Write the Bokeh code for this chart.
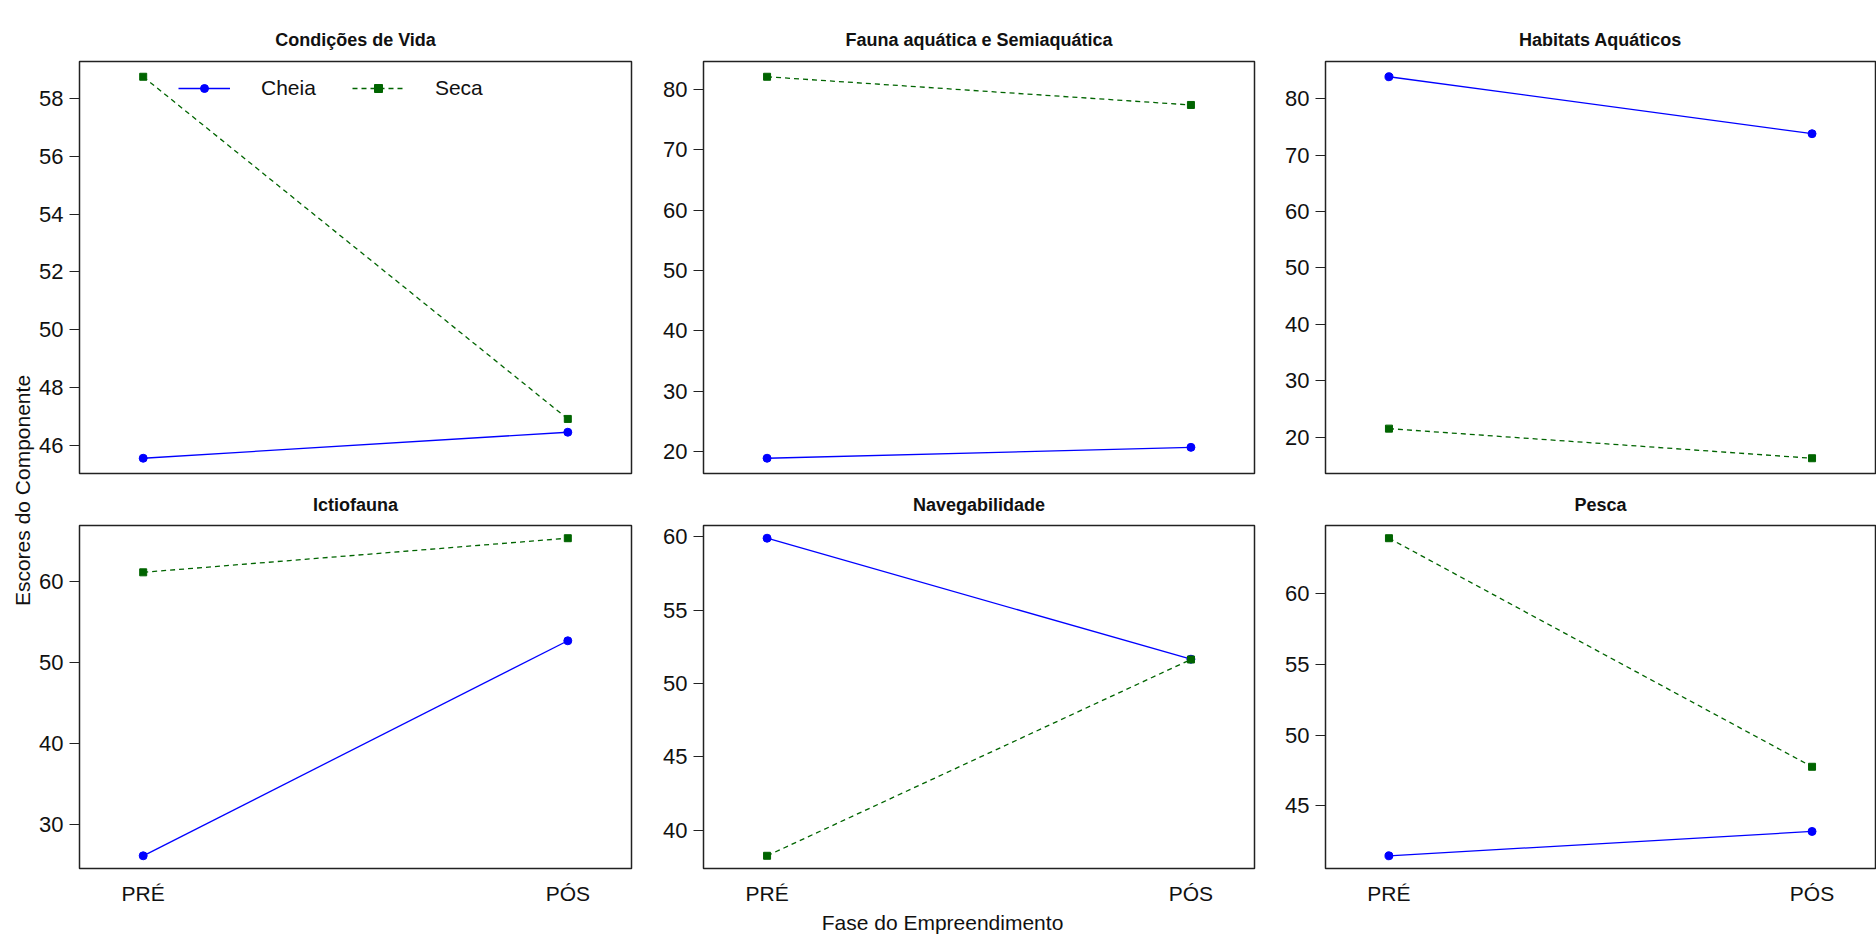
import math
from bokeh.plotting import figure
from bokeh.models import Range1d, FixedTicker, Legend, LegendItem, Label
from bokeh.layouts import row, column
from bokeh.embed import file_html
from bokeh.resources import INLINE

# ---------------- data ----------------
panels = ["Condições de Vida", "Fauna aquática e Semiaquática", "Habitats Aquáticos",
          "Ictiofauna", "Navegabilidade", "Pesca"]
phases = ["PRÉ", "PÓS"]
phase_x = [1, 2]
series = ["Cheia", "Seca"]
cheia_pre = [45.55, 18.9, 83.9, 26.2, 59.9, 41.48]
cheia_pos = [46.45, 20.7, 73.8, 52.67, 51.66, 43.2]
seca_pre = [58.75, 82.07, 21.5, 61.1, 38.27, 63.92]
seca_pos = [46.91, 77.4, 16.25, 65.3, 51.64, 47.77]
yticks = [[46, 48, 50, 52, 54, 56, 58],
          [20, 30, 40, 50, 60, 70, 80],
          [20, 30, 40, 50, 60, 70, 80],
          [30, 40, 50, 60],
          [40, 45, 50, 55, 60],
          [45, 50, 55, 60]]
y_label = "Escores do Componente"
x_label = "Fase do Empreendimento"

# ---------------- style ----------------
FONT = "Liberation Sans"
BLUE = "#0000FF"
GREEN = "#006400"

ylab_w = 36
col_left = [42, 62, 63]
col_right = [10, 8, 2]
frame_w = [552, 551, 550]
row_top = [61, 46]
row_bottom = [6, 38]
frame_h = [412, 343]
title_standoff = [23, 21]
xlab_h = 28


def make_panel(i):
    r, c = divmod(i, 3)
    vals = [cheia_pre[i], cheia_pos[i], seca_pre[i], seca_pos[i]]
    lo, hi = min(vals), max(vals)
    pad = 0.04 * (hi - lo)
    p = figure(frame_width=frame_w[c], frame_height=frame_h[r],
               min_border_left=col_left[c], min_border_right=col_right[c],
               min_border_top=row_top[r], min_border_bottom=row_bottom[r],
               x_range=Range1d(0.85, 2.15), y_range=Range1d(lo - pad, hi + pad),
               output_backend="svg", toolbar_location=None, title=panels[i])
    p.xgrid.visible = False
    p.ygrid.visible = False
    p.background_fill_color = "white"
    p.border_fill_color = "white"
    p.outline_line_color = "#222222"
    p.outline_line_width = 1.5
    p.outline_line_alpha = 1.0

    p.title.text_font = FONT
    p.title.text_font_size = "18px"
    p.title.text_font_style = "bold"
    p.title.text_color = "#111111"
    p.title.align = "center"
    p.title.standoff = title_standoff[r]

    ya = p.yaxis[0]
    ya.ticker = FixedTicker(ticks=yticks[i], minor_ticks=[])
    ya.axis_line_color = None
    ya.major_tick_out = 10
    ya.major_tick_in = 0
    ya.major_tick_line_color = "#222222"
    ya.major_tick_line_width = 1.2
    ya.minor_tick_line_color = None
    ya.major_label_standoff = 6
    ya.major_label_text_font = FONT
    ya.major_label_text_font_size = "22px"
    ya.major_label_text_color = "#111111"

    xa = p.xaxis[0]
    if r == 0:
        xa.visible = False
    else:
        xa.ticker = FixedTicker(ticks=phase_x, minor_ticks=[])
        xa.major_label_overrides = {phase_x[k]: phases[k] for k in range(2)}
        xa.axis_line_color = None
        xa.major_tick_out = 0
        xa.major_tick_in = 0
        xa.major_tick_line_color = None
        xa.minor_tick_line_color = None
        xa.major_label_standoff = 13
        xa.major_label_text_font = FONT
        xa.major_label_text_font_size = "21px"
        xa.major_label_text_color = "#111111"

    l1 = p.line(phase_x, [cheia_pre[i], cheia_pos[i]], line_color=BLUE, line_width=1.3)
    s1 = p.scatter(phase_x, [cheia_pre[i], cheia_pos[i]], marker="circle", size=8,
                   fill_color=BLUE, line_color=BLUE)
    l2 = p.line(phase_x, [seca_pre[i], seca_pos[i]], line_color=GREEN, line_width=1.3,
                line_dash="5 4")
    s2 = p.scatter(phase_x, [seca_pre[i], seca_pos[i]], marker="square", size=7,
                   fill_color=GREEN, line_color=GREEN)

    if i == 0:
        leg = Legend(items=[LegendItem(label=series[0], renderers=[l1, s1]),
                            LegendItem(label=series[1], renderers=[l2, s2])],
                     orientation="horizontal", location=(99, 373),
                     border_line_color=None, background_fill_alpha=0,
                     padding=0, margin=0, spacing=36, glyph_width=52,
                     glyph_height=20, label_standoff=31,
                     label_text_font=FONT, label_text_font_size="21px",
                     label_text_color="#111111")
        p.add_layout(leg)
    return p


figs = [make_panel(i) for i in range(6)]

row_heights = [row_top[r] + frame_h[r] + row_bottom[r] for r in range(2)]
grid_h = sum(row_heights)
total_w = ylab_w + sum(col_left[c] + frame_w[c] + col_right[c] for c in range(3))

yl = figure(width=ylab_w, height=grid_h, x_range=Range1d(0, ylab_w), y_range=Range1d(0, grid_h),
            min_border=0, x_axis_location=None, y_axis_location=None,
            output_backend="svg", toolbar_location=None)
yl.grid.visible = False
yl.outline_line_color = None
yl.add_layout(Label(x=22, y=grid_h - 490, text=y_label, angle=math.pi / 2,
                    text_align="center", text_baseline="middle",
                    text_font=FONT, text_font_size="21px", text_color="#111111"))

xl = figure(width=total_w, height=xlab_h, x_range=Range1d(0, total_w), y_range=Range1d(0, xlab_h),
            min_border=0, x_axis_location=None, y_axis_location=None,
            output_backend="svg", toolbar_location=None)
xl.grid.visible = False
xl.outline_line_color = None
xl.add_layout(Label(x=942, y=13, text=x_label, text_align="center",
                    text_baseline="middle", text_font=FONT,
                    text_font_size="21px", text_color="#111111"))

layout = column(row(yl, column(row(*figs[:3]), row(*figs[3:]))), xl)

open("out.html", "w").write(file_html(layout, INLINE))
